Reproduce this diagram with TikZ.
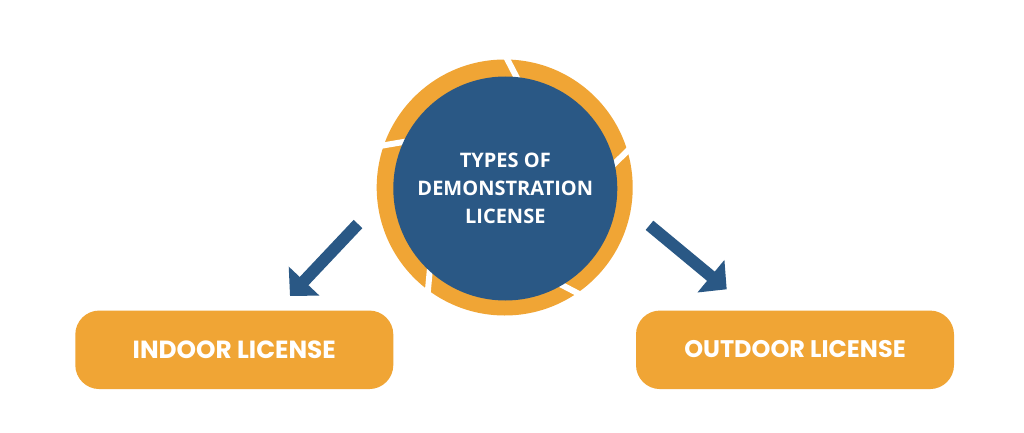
\documentclass[tikz,border=0pt]{standalone}
\usepackage{fontspec}
\setmainfont{Open Sans}
\newfontfamily\boxfont{Poppins}
\usetikzlibrary{arrows.meta}
\definecolor{ringorange}{HTML}{F0A535}
\definecolor{hubblue}{HTML}{2A5885}
\tikzset{
  licensebox/.style={draw=none,fill=ringorange,rounded corners=24pt,minimum width=318pt,minimum height=78.5pt,inner sep=0pt,text=white,font=\boxfont\bfseries\fontsize{24.8pt}{28pt}\selectfont},
  ringdisc/.style={circle,fill=ringorange,minimum size=256pt,inner sep=0pt},
  hubdisc/.style={circle,fill=hubblue,minimum size=224pt,inner sep=0pt,text=white,align=center,font=\bfseries\fontsize{20pt}{27.8pt}\selectfont},
  ringgap/.style={draw=white,line width=6pt,line cap=butt},
  bigarrow/.style={draw=hubblue,fill=hubblue,line width=12pt,-{Triangle[width=41pt,length=20.5pt]}}
}
\begin{document}
\begin{tikzpicture}[x=1pt,y=-1pt]
\useasboundingbox (0,0) rectangle (1024,433);
\fill[white] (0,0) rectangle (1024,433);
\node[ringdisc] (ring) at (504.7,187.5) {};
% gaps in the ring
\coordinate (g1a) at (505.6,56); \coordinate (g1b) at (518,80);
\coordinate (g2a) at (631,147.5); \coordinate (g2b) at (611,167);
\coordinate (g3a) at (582,295.5); \coordinate (g3b) at (559,283.5);
\coordinate (g4a) at (427.5,295); \coordinate (g4b) at (430,268);
\coordinate (g5a) at (374,147); \coordinate (g5b) at (408,141.2);
\draw[ringgap] (g1a) -- (g1b);
\draw[ringgap] (g2a) -- (g2b);
\draw[ringgap] (g3a) -- (g3b);
\draw[ringgap] (g4a) -- (g4b);
\draw[ringgap] (g5a) -- (g5b);
\node[hubdisc] (hub) at (505.3,188.5) {TYPES OF\\DEMONSTRATION\\LICENSE};
\node[licensebox] (indoor) at (234.3,349.8) {INDOOR LICENSE};
\node[licensebox] (outdoor) at (795,349.8) {\raisebox{1.5pt}{\fontsize{24pt}{28pt}\selectfont OUTDOOR LICENSE}};
\coordinate (tailL) at (358,224); \coordinate (tipL) at (290,296);
\coordinate (tailR) at (649.5,225.3); \coordinate (tipR) at (726.7,289.3);
\draw[bigarrow] (tailL) -- (tipL);
\draw[bigarrow] (tailR) -- (tipR);
\end{tikzpicture}
\end{document}
